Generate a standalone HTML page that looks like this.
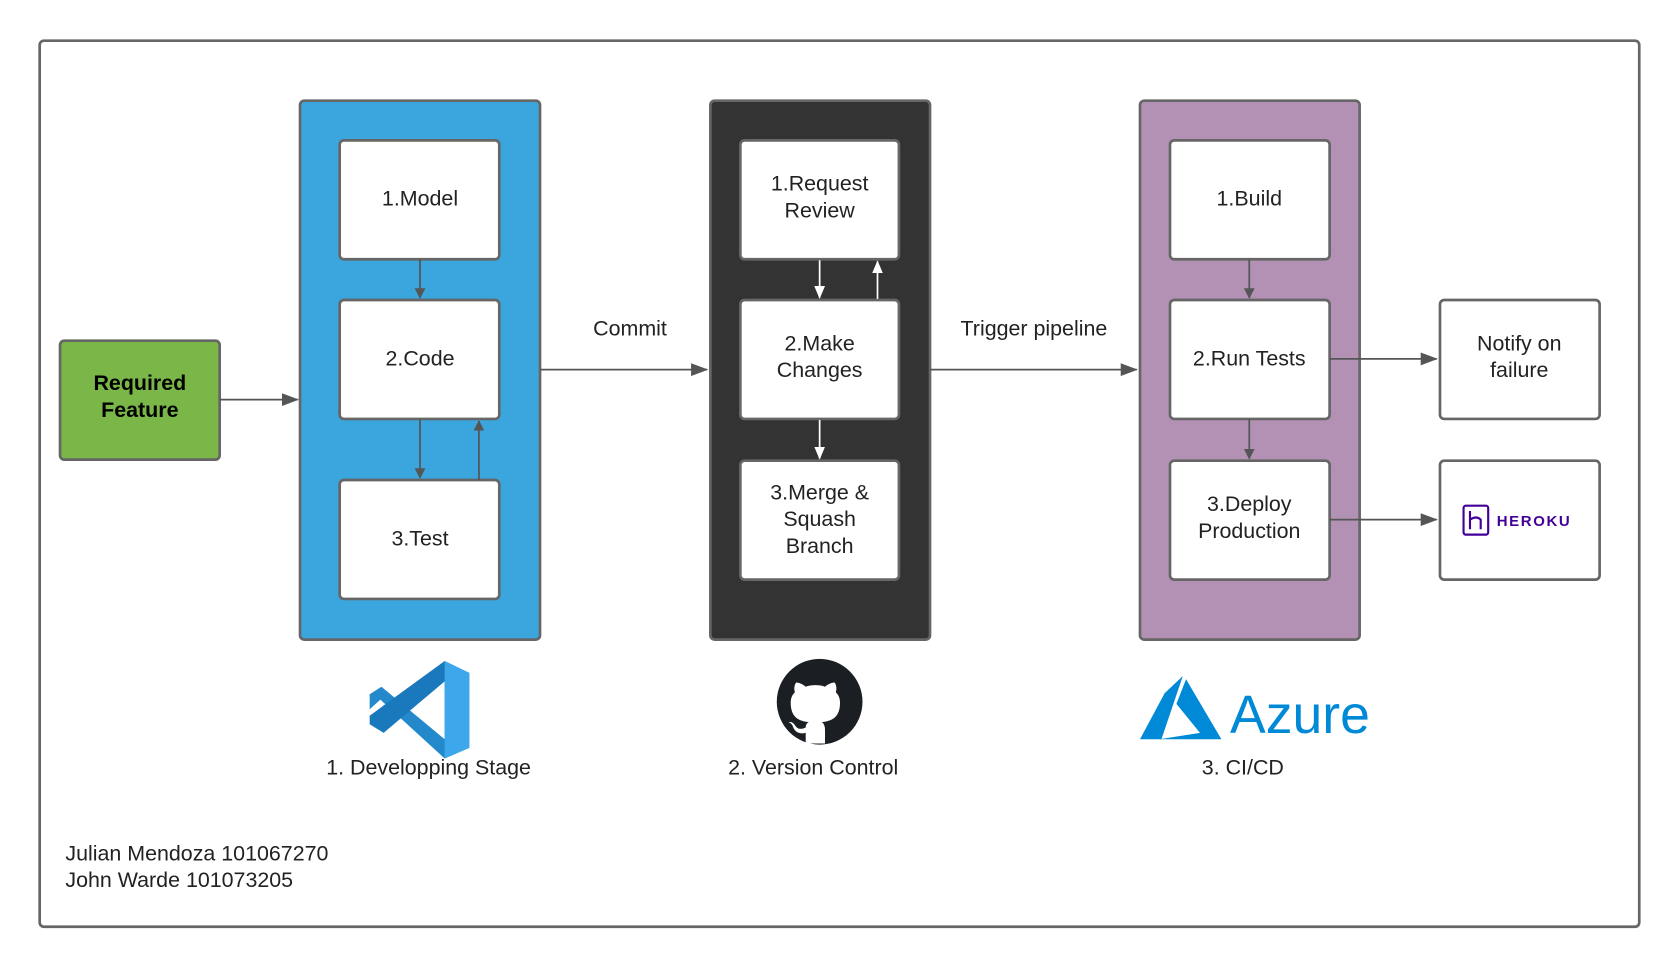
<!DOCTYPE html>
<html><head><meta charset="utf-8"><style>
html,body{margin:0;padding:0;background:#fff;}
svg{display:block;}
text{font-family:"Liberation Sans",sans-serif;fill:#222;}
</style></head><body>
<svg width="1680" height="968" viewBox="0 0 1568 903.5" xmlns="http://www.w3.org/2000/svg">
<defs>
<marker id="ag" markerWidth="10" markerHeight="10" refX="9" refY="5" orient="auto" markerUnits="userSpaceOnUse"><path d="M0,0 L10,5 L0,10 z" fill="#555"/></marker>
<marker id="ag2" markerWidth="16" markerHeight="12" refX="15" refY="6" orient="auto" markerUnits="userSpaceOnUse"><path d="M0,0 L16,6 L0,12 z" fill="#555"/></marker>
<marker id="aw" markerWidth="12" markerHeight="10" refX="11" refY="5" orient="auto" markerUnits="userSpaceOnUse"><path d="M0,0 L12,5 L0,10 z" fill="#fff"/></marker>
</defs>
<rect x="37" y="38" width="1493" height="827" rx="4" fill="#fff" stroke="#666" stroke-width="2.5"/>
<!-- green -->
<rect x="56" y="318" width="149" height="111" rx="4" fill="#7ab648" stroke="#666" stroke-width="2.5"/>
<text x="130.5" y="364" text-anchor="middle" font-size="20" font-weight="bold" style="fill:#000">Required</text>
<text x="130.5" y="389" text-anchor="middle" font-size="20" font-weight="bold" style="fill:#000">Feature</text>
<!-- panels -->
<rect x="280" y="94" width="224" height="503" rx="4" fill="#3ba5dd" stroke="#666" stroke-width="2.5"/>
<rect x="663" y="94" width="205" height="503" rx="4" fill="#333" stroke="#666" stroke-width="2.5"/>
<rect x="1064" y="94" width="205" height="503" rx="4" fill="#b291b5" stroke="#666" stroke-width="2.5"/>
<g fill="#fff" stroke="#666" stroke-width="2.5">
<rect x="317" y="131" width="149" height="111" rx="4"/>
<rect x="317" y="280" width="149" height="111" rx="4"/>
<rect x="317" y="448" width="149" height="111" rx="4"/>
<rect x="691" y="131" width="148" height="111" rx="4"/>
<rect x="691" y="280" width="148" height="111" rx="4"/>
<rect x="691" y="430" width="148" height="111" rx="4"/>
<rect x="1092" y="131" width="149" height="111" rx="4"/>
<rect x="1092" y="280" width="149" height="111" rx="4"/>
<rect x="1092" y="430" width="149" height="111" rx="4"/>
<rect x="1344" y="280" width="149" height="111" rx="4"/>
<rect x="1344" y="430" width="149" height="111" rx="4"/>
</g>
<g font-size="20" text-anchor="middle">
<text x="392" y="192">1.Model</text>
<text x="392" y="341">2.Code</text>
<text x="392" y="509">3.Test</text>
<text x="765" y="178">1.Request</text>
<text x="765" y="203">Review</text>
<text x="765" y="327">2.Make</text>
<text x="765" y="352">Changes</text>
<text x="765" y="466">3.Merge &amp;</text>
<text x="765" y="491">Squash</text>
<text x="765" y="516">Branch</text>
<text x="1166" y="192">1.Build</text>
<text x="1166" y="341">2.Run Tests</text>
<text x="1166" y="477">3.Deploy</text>
<text x="1166" y="502">Production</text>
<text x="1418" y="327">Notify on</text>
<text x="1418" y="352">failure</text>
<text x="588" y="313">Commit</text>
<text x="965" y="313">Trigger pipeline</text>
<text x="400" y="723">1. Developping Stage</text>
<text x="759" y="723">2. Version Control</text>
<text x="1160" y="723">3. CI/CD</text>
</g>
<text x="61" y="803" font-size="20">Julian Mendoza 101067270</text>
<text x="61" y="828" font-size="20">John Warde 101073205</text>
<!-- connectors -->
<g stroke="#555" stroke-width="1.6" fill="none">
<line x1="205" y1="373" x2="278" y2="373" marker-end="url(#ag2)"/>
<line x1="504" y1="345" x2="660" y2="345" marker-end="url(#ag2)"/>
<line x1="868" y1="345" x2="1061" y2="345" marker-end="url(#ag2)"/>
<line x1="1241" y1="335" x2="1341" y2="335" marker-end="url(#ag2)"/>
<line x1="1241" y1="485" x2="1341" y2="485" marker-end="url(#ag2)"/>
<line x1="392" y1="242" x2="392" y2="278" marker-end="url(#ag)"/>
<line x1="392" y1="391" x2="392" y2="446" marker-end="url(#ag)"/>
<line x1="447" y1="448" x2="447" y2="393" marker-end="url(#ag)"/>
<line x1="1166" y1="242" x2="1166" y2="278" marker-end="url(#ag)"/>
<line x1="1166" y1="391" x2="1166" y2="428" marker-end="url(#ag)"/>
</g>
<g stroke="#fff" stroke-width="1.6" fill="none">
<line x1="765" y1="243" x2="765" y2="278" marker-end="url(#aw)"/>
<line x1="819" y1="279" x2="819" y2="244" marker-end="url(#aw)"/>
<line x1="765" y1="392" x2="765" y2="428" marker-end="url(#aw)"/>
</g>
<!-- heroku -->
<rect x="1366" y="472" width="23" height="27" rx="2" fill="none" stroke="#430098" stroke-width="2"/>
<path d="M1372,477 v17 M1372,485 q6,-4 10,0 v9" stroke="#430098" stroke-width="2" fill="none"/>
<text x="1397" y="491" font-size="14" font-weight="bold" letter-spacing="1.5" style="fill:#430098">HEROKU</text>
<!-- vscode -->
<path d="M415,617 L438,628 L438,698 L415,708 L355,653 L345,662 L345,648 L356,641 L415,690 Z" fill="#2489ca"/>
<path d="M415,617 L438,628 L438,698 L415,708 Z" fill="#3ca7ea"/>
<path d="M415,617 L415,636 L358,684 L345,676 L345,668 Z" fill="#1a78bd"/>
<!-- github -->
<circle cx="765" cy="655" r="40" fill="#1b1f23"/>
<path d="M752,694 v-10 c-8,2 -11,-3 -12,-6 c-1,-3 -4,-4 -4,-4 c4,-1 6,3 6,3 c3,5 8,3 10,2 c0,-3 2,-5 3,-5 c-10,-1 -17,-5 -17,-18 c0,-4 1,-7 4,-10 c-1,-2 -1,-6 1,-9 c3,0 7,2 9,4 c5,-2 13,-2 18,0 c2,-2 6,-4 9,-4 c2,3 2,7 1,9 c3,3 4,6 4,10 c0,13 -7,17 -17,18 c2,1 3,4 3,7 v13 z" fill="#fff"/>
<!-- azure -->
<path d="M1104,631 L1087,647 L1064,690 L1084,690 Z" fill="#0089d6"/>
<path d="M1107,634 L1140,690 L1082,690 L1120,684 L1098,657 Z" fill="#0089d6"/>
<text x="1148" y="684" font-size="50" style="fill:#0089d6">Azure</text>
</svg>
</body></html>
